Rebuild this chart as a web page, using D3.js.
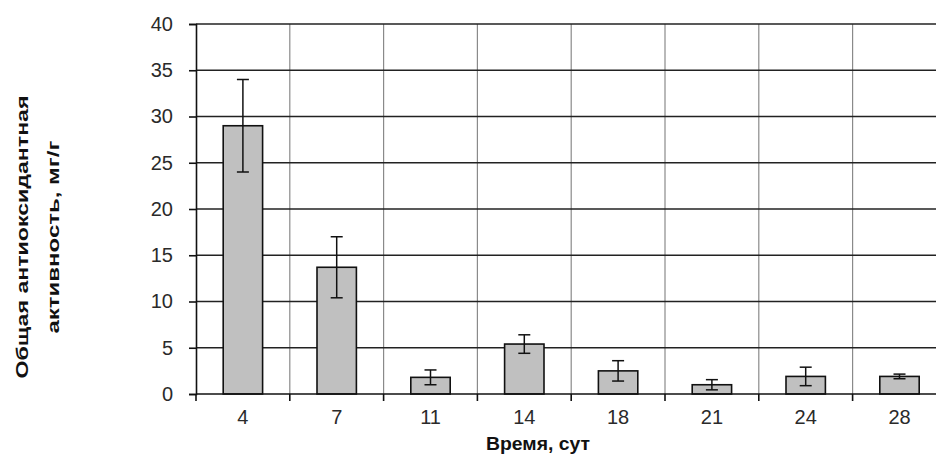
<!DOCTYPE html>
<html>
<head>
<meta charset="utf-8">
<script src="https://cdn.jsdelivr.net/npm/d3@7"></script>
<style>
  body { margin: 0; background: #fff; }
  svg { display: block; font-family: "Liberation Sans", Arial, sans-serif; }
</style>
</head>
<body>
<div id="chart"></div>
<script>
// дни
const days = ["4", "7", "11", "14", "18", "21", "24", "28"];
// средние значения, мг/г
const values = [29.0, 13.7, 1.8, 5.4, 2.5, 1.0, 1.9, 1.9];
// погрешность (±)
const errors = [5.0, 3.3, 0.8, 1.0, 1.1, 0.55, 1.0, 0.25];
const yTicks = [0, 5, 10, 15, 20, 25, 30, 35, 40];

const W = 936, H = 457;
const margin = { top: 24, left: 196, bottom: 63 };
const plotH = H - margin.top - margin.bottom;
const bandW = 93.8;

const svg = d3.select("#chart").append("svg")
    .attr("width", W)
    .attr("height", H);

const g = svg.append("g")
    .attr("transform", `translate(${margin.left},${margin.top})`);

const x = d3.scaleBand()
    .domain(days)
    .range([0, bandW * days.length])
    .paddingInner(0.58)
    .paddingOuter(0.29);

const y = d3.scaleLinear()
    .domain([0, 40])
    .range([plotH, 0]);

// вертикальная сетка (серая)
g.append("g")
    .selectAll("line")
    .data(days.slice(1).concat(["end"]))
    .enter()
    .append("line")
    .attr("x1", (d, i) => bandW * (i + 1))
    .attr("x2", (d, i) => bandW * (i + 1))
    .attr("y1", 0)
    .attr("y2", plotH)
    .attr("stroke", "#8a8a8a")
    .attr("stroke-width", 1.2);

// горизонтальная сетка
g.append("g")
    .selectAll("line")
    .data(yTicks.slice(1))
    .enter()
    .append("line")
    .attr("x1", 0)
    .attr("x2", bandW * days.length)
    .attr("y1", d => y(d))
    .attr("y2", d => y(d))
    .attr("stroke", "#222")
    .attr("stroke-width", 1.6);

// столбцы
g.selectAll("rect.bar")
    .data(values)
    .enter()
    .append("rect")
    .attr("class", "bar")
    .attr("x", (d, i) => x(days[i]))
    .attr("y", d => y(d))
    .attr("width", x.bandwidth())
    .attr("height", d => plotH - y(d))
    .attr("fill", "#c0c0c0")
    .attr("stroke", "#111")
    .attr("stroke-width", 1.6);

// планки погрешностей
const eb = g.append("g").attr("stroke", "#111").attr("stroke-width", 1.5);
values.forEach((v, i) => {
    const cx = x(days[i]) + x.bandwidth() / 2;
    const top = y(v + errors[i]), bot = y(v - errors[i]);
    eb.append("line").attr("x1", cx).attr("x2", cx).attr("y1", top).attr("y2", bot);
    eb.append("line").attr("x1", cx - 6).attr("x2", cx + 6).attr("y1", top).attr("y2", top);
    eb.append("line").attr("x1", cx - 6).attr("x2", cx + 6).attr("y1", bot).attr("y2", bot);
});

// ось Y
const yAxis = g.append("g")
    .call(d3.axisLeft(y).tickValues(yTicks).tickSize(7).tickPadding(16));
yAxis.select(".domain").attr("stroke", "#111").attr("stroke-width", 1.6);
yAxis.selectAll(".tick line").attr("stroke", "#111").attr("stroke-width", 1.6);
yAxis.selectAll("text").style("font-size", "20px").attr("fill", "#2a2a2a");

// ось X
const xAxis = g.append("g")
    .attr("transform", `translate(0,${plotH})`)
    .call(d3.axisBottom(x).tickSize(0).tickPadding(16));
xAxis.select(".domain").remove();
xAxis.append("line")
    .attr("x1", 0).attr("x2", bandW * days.length)
    .attr("stroke", "#111").attr("stroke-width", 1.6);
xAxis.selectAll("line.tk")
    .data(d3.range(days.length + 1))
    .enter()
    .append("line")
    .attr("class", "tk")
    .attr("x1", d => d * bandW).attr("x2", d => d * bandW)
    .attr("y1", 0).attr("y2", 7)
    .attr("stroke", "#111").attr("stroke-width", 1.6);
xAxis.selectAll("text").style("font-size", "20px").attr("fill", "#2a2a2a");

// подписи осей
svg.append("text")
    .attr("x", 538)
    .attr("y", 450)
    .attr("text-anchor", "middle")
    .attr("textLength", 104)
    .attr("lengthAdjust", "spacingAndGlyphs")
    .style("font-size", "18px")
    .style("font-weight", "bold")
    .attr("fill", "#111")
    .text("Время, сут");

const yt = svg.append("text")
    .attr("transform", "translate(0,237) rotate(-90)")
    .attr("text-anchor", "middle")
    .style("font-size", "16px")
    .style("font-weight", "bold")
    .attr("fill", "#111");
yt.append("tspan").attr("x", 0).attr("y", 28)
    .attr("textLength", 283).attr("lengthAdjust", "spacingAndGlyphs")
    .text("Общая антиоксидантная");
yt.append("tspan").attr("x", 0).attr("y", 59)
    .attr("textLength", 193).attr("lengthAdjust", "spacingAndGlyphs")
    .text("активность,  мг/г");
</script>
</body>
</html>
